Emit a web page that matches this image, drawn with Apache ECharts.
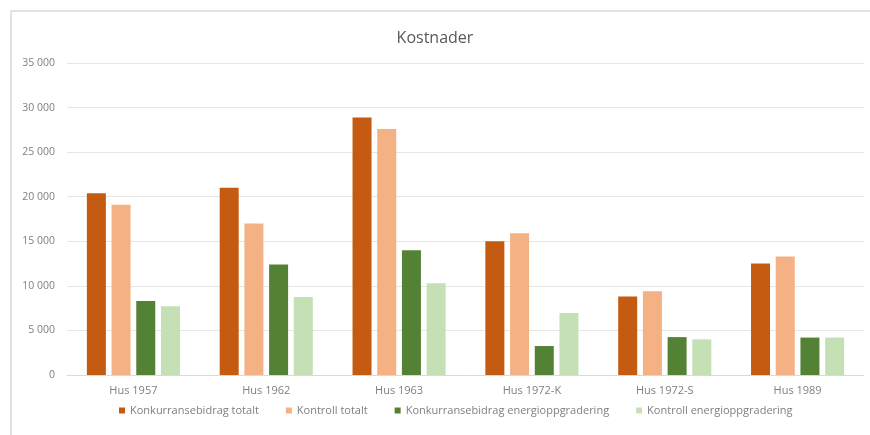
<!DOCTYPE html>
<html>
<head>
<meta charset="utf-8">
<script src="https://cdn.jsdelivr.net/npm/echarts@6/dist/echarts.min.js"></script>
<style>
html,body{margin:0;padding:0;width:100%;height:100%;background:#fff;}
#chart{width:870px;height:435px;}
</style>
</head>
<body>
<div id="chart"></div>
<script>
var chart = echarts.init(document.getElementById('chart'));

var categories = ['Hus 1957', 'Hus 1962', 'Hus 1963', 'Hus 1972-K', 'Hus 1972-S', 'Hus 1989'];
var seriesNames = ['Konkurransebidrag totalt', 'Kontroll totalt', 'Konkurransebidrag energioppgradering', 'Kontroll energioppgradering'];
var konkTotalt = [20400, 21000, 28900, 15000, 8800, 12500];
var kontrollTotalt = [19100, 17000, 27600, 15900, 9400, 13300];
var konkEnergi = [8300, 12400, 14000, 3250, 4250, 4200];
var kontrollEnergi = [7700, 8750, 10300, 6950, 4000, 4200];
var colors = ['#C55A11', '#F4B183', '#548235', '#C5E0B4'];

var values = [konkTotalt, kontrollTotalt, konkEnergi, kontrollEnergi];

var option = {
  backgroundColor: '#fff',
  animation: false,
  color: colors,
  title: {
    text: 'Kostnader',
    left: 'center',
    top: 25,
    textStyle: {color: '#595959', fontSize: 16, fontWeight: 'normal', fontFamily: 'Open Sans'}
  },
  graphic: [{
    type: 'rect',
    shape: {x: 11, y: 11, width: 880, height: 440},
    style: {fill: 'none', stroke: '#d9d9d9', lineWidth: 1.5}
  }],
  legend: {
    bottom: 14,
    left: 114,
    itemWidth: 6,
    itemHeight: 6,
    itemGap: 27,
    icon: 'rect',
    textStyle: {color: '#7f7f7f', fontSize: 11, fontFamily: 'Open Sans'},
    data: seriesNames
  },
  grid: {left: 67, right: 6, top: 63, bottom: 60},
  xAxis: {
    type: 'category',
    data: categories,
    axisLine: {lineStyle: {color: '#d9d9d9'}},
    axisTick: {show: false},
    axisLabel: {color: '#7f7f7f', fontSize: 11, margin: 10, fontFamily: 'Open Sans'}
  },
  yAxis: {
    type: 'value',
    min: 0,
    max: 35000,
    interval: 5000,
    axisLine: {show: false},
    axisTick: {show: false},
    splitLine: {lineStyle: {color: '#e6e6e6'}},
    axisLabel: {
      color: '#7f7f7f', fontSize: 10.5, margin: 12, fontFamily: 'Open Sans',
      formatter: function (v) { return v === 0 ? '0' : (v / 1000) + ' 000'; }
    }
  },
  series: seriesNames.map(function (name, i) {
    return {
      name: name,
      type: 'bar',
      data: values[i],
      barWidth: 19,
      barGap: '30%',
      itemStyle: {color: colors[i]}
    };
  })
};

chart.setOption(option);
</script>
</body>
</html>
